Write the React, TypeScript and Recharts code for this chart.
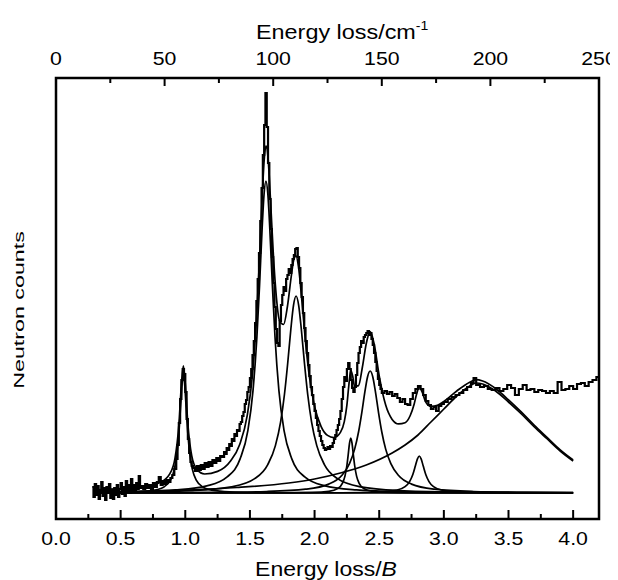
import { ComposedChart, Line, XAxis, YAxis, ReferenceArea, Label } from "recharts"

const FONT = '"Liberation Sans", Arial, Helvetica, sans-serif'

// measured spectrum, histogram bins: [energy loss / B, counts]
const spectrum: [number, number][] = [
  [0.28, 6], [0.29, -4], [0.3, 9], [0.31, -2], [0.32, 7], [0.33, -6], [0.34, 3], [0.35, 11], [0.36, -3], [0.37, 5],
  [0.38, -7], [0.39, 6], [0.4, 0], [0.41, 9], [0.42, -5], [0.43, 3], [0.44, -6], [0.45, 5], [0.46, -2], [0.47, 8],
  [0.48, -4], [0.49, 4], [0.5, 10], [0.51, -1], [0.52, 6], [0.53, -3], [0.54, 12], [0.55, 2], [0.56, 8], [0.57, 0],
  [0.58, 14], [0.59, 3], [0.6, 8], [0.61, 2], [0.62, 10], [0.63, 4], [0.64, 17], [0.65, 5],
  [0.66, 7], [0.675, 4], [0.69, 9], [0.705, 5], [0.72, 8], [0.735, 4], [0.75, 10], [0.765, 6], [0.78, 11], [0.795, 16],
  [0.81, 8], [0.825, 12], [0.84, 9], [0.855, 13], [0.87, 11], [0.885, 15], [0.9, 18], [0.915, 24],
  [0.93, 34], [0.94, 48], [0.95, 70], [0.96, 94], [0.97, 113], [0.98, 124], [0.99, 119], [1.0, 101], [1.01, 74], [1.02, 54],
  [1.03, 40], [1.04, 31], [1.05, 27], [1.06, 25],
  [1.075, 22], [1.09, 27], [1.105, 23], [1.12, 28], [1.135, 24], [1.15, 30], [1.165, 26], [1.18, 31], [1.195, 27], [1.21, 33],
  [1.225, 30], [1.24, 35], [1.255, 32], [1.27, 37], [1.285, 36],
  [1.3, 41], [1.31, 39], [1.32, 45], [1.33, 43], [1.34, 49], [1.35, 47], [1.36, 54], [1.37, 52], [1.38, 59], [1.39, 57],
  [1.4, 63], [1.41, 62], [1.42, 69], [1.43, 71], [1.44, 77], [1.45, 81], [1.46, 89], [1.47, 93], [1.48, 101], [1.49, 106],
  [1.5, 115], [1.51, 124], [1.52, 138], [1.53, 152], [1.54, 170], [1.55, 192], [1.56, 214], [1.57, 240], [1.58, 272], [1.59, 305],
  [1.6, 338], [1.61, 368], [1.62, 400], [1.63, 366], [1.64, 330], [1.65, 294], [1.66, 264], [1.67, 236], [1.68, 210], [1.69, 186],
  [1.7, 164], [1.71, 150], [1.72, 147], [1.73, 172], [1.74, 188], [1.75, 198], [1.76, 206], [1.77, 202], [1.78, 214], [1.79, 218],
  [1.8, 224], [1.81, 220], [1.82, 228], [1.83, 234], [1.84, 238], [1.85, 244], [1.86, 245], [1.87, 236], [1.88, 225], [1.89, 210],
  [1.9, 196], [1.91, 180], [1.92, 165], [1.93, 152], [1.94, 140], [1.95, 128], [1.96, 117], [1.97, 106], [1.98, 98], [1.99, 89],
  [2.0, 82], [2.01, 75], [2.02, 68], [2.03, 62], [2.04, 57], [2.05, 52], [2.06, 48], [2.07, 45], [2.08, 43], [2.09, 44],
  [2.1, 46], [2.11, 44], [2.12, 47], [2.13, 46], [2.14, 50], [2.15, 54], [2.16, 58], [2.17, 63], [2.18, 68], [2.19, 74],
  [2.2, 82], [2.21, 94], [2.22, 106], [2.23, 116], [2.24, 112], [2.25, 124], [2.26, 130], [2.27, 124], [2.28, 113], [2.29, 105],
  [2.3, 101], [2.31, 106], [2.32, 118], [2.33, 130], [2.34, 140], [2.35, 146], [2.36, 152], [2.37, 150], [2.38, 156], [2.39, 158],
  [2.4, 160], [2.41, 162], [2.42, 158], [2.43, 160], [2.44, 154], [2.45, 148], [2.46, 140], [2.47, 131], [2.48, 122], [2.49, 114],
  [2.5, 108], [2.51, 104],
  [2.52, 100], [2.54, 102], [2.56, 99], [2.58, 101], [2.6, 97], [2.62, 99], [2.64, 95], [2.66, 91], [2.68, 94], [2.7, 89],
  [2.72, 88], [2.74, 94], [2.76, 100], [2.78, 104], [2.8, 107], [2.82, 104], [2.84, 98], [2.86, 92], [2.88, 88], [2.9, 84],
  [2.92, 86], [2.94, 82], [2.96, 87], [2.98, 89], [3.0, 91], [3.03, 94], [3.06, 96], [3.09, 98], [3.12, 100], [3.15, 103],
  [3.18, 106], [3.21, 110], [3.23, 115], [3.25, 108], [3.28, 106], [3.31, 107], [3.34, 104], [3.37, 103], [3.4, 105], [3.43, 102],
  [3.46, 104], [3.49, 108], [3.52, 105], [3.55, 98], [3.58, 104], [3.61, 108], [3.64, 103], [3.67, 104], [3.7, 101], [3.73, 103],
  [3.76, 102], [3.79, 100], [3.82, 102], [3.85, 100], [3.88, 111], [3.91, 103], [3.94, 104], [3.97, 107], [4.0, 104], [4.03, 109],
  [4.06, 110], [4.09, 107], [4.12, 111], [4.15, 113], [4.18, 116], [4.2, 116],
]

// sum of the fitted components
const fitTotal: [number, number][] = [
  [0.3, 3.1], [0.5, 4.3], [0.7, 6.8], [0.8, 10.2], [0.88, 19.2], [0.92, 34.4], [0.95, 67.4], [0.97, 108.5], [0.985, 127.1],
  [1.0, 109.1], [1.02, 68.9], [1.05, 37.1], [1.09, 23.6], [1.15, 19.0], [1.25, 21.6], [1.35, 32.0], [1.42, 48.3], [1.48, 78.2],
  [1.52, 118.7], [1.555, 183.2], [1.575, 236.6], [1.595, 296.4], [1.61, 332.5], [1.624, 347.1], [1.64, 335.3], [1.66, 290.9],
  [1.68, 241.2], [1.7, 202.7], [1.73, 171.9], [1.76, 168.5], [1.79, 186.5], [1.82, 217.0], [1.84, 233.7], [1.857, 237.2],
  [1.875, 226.8], [1.9, 195.1], [1.93, 151.2], [1.96, 116.4], [2.0, 86.5], [2.05, 66.7], [2.1, 57.6], [2.15, 55.4], [2.2, 60.6],
  [2.23, 71.4], [2.25, 87.9], [2.265, 107.7], [2.28, 122.7], [2.295, 116.7], [2.31, 106.7], [2.34, 107.4], [2.37, 126.0],
  [2.4, 149.5], [2.43, 161.4], [2.46, 149.5], [2.5, 117.2], [2.55, 87.9], [2.6, 73.6], [2.65, 69.1], [2.7, 70.3], [2.74, 77.5],
  [2.77, 88.8], [2.79, 99.2], [2.81, 105.5], [2.83, 101.7], [2.86, 90.9], [2.9, 86.6], [2.95, 87.6], [3.0, 91.5], [3.1, 102.0],
  [3.2, 110.8], [3.25, 113.4], [3.3, 112.0], [3.4, 104.5], [3.5, 93.1], [3.6, 80.8], [3.7, 67.6], [3.8, 55.4], [3.9, 43.2],
  [4.0, 33.1],
]

// individual fitted peaks
const peak1: [number, number][] = [
  [0.3, 0.3], [0.585, 0.9], [0.735, 2.3], [0.835, 6.1], [0.885, 12.9], [0.915, 23.6], [0.935, 38.8], [0.95, 59], [0.965, 89],
  [0.975, 109], [0.985, 118], [0.995, 109], [1.005, 89], [1.02, 59], [1.035, 38.8], [1.055, 23.6], [1.085, 12.9], [1.135, 6.1],
  [1.235, 2.3], [1.385, 0.9], [1.8, 0.2], [2.6, 0.06], [4.0, 0],
]
const peak2: [number, number][] = [
  [0.3, 0.87], [0.624, 1.5], [0.924, 3.1], [1.174, 7.4], [1.324, 16.1], [1.424, 34.1], [1.484, 62.4], [1.524, 102.6],
  [1.554, 156], [1.574, 206.6], [1.594, 263.6], [1.609, 298.3], [1.624, 312], [1.639, 298.3], [1.654, 263.6], [1.674, 206.6],
  [1.694, 156], [1.724, 102.6], [1.764, 62.4], [1.824, 34.1], [1.924, 16.1], [2.074, 7.4], [2.324, 3.1], [2.624, 1.5],
  [3.2, 0.6], [4.0, 0.27],
]
const peak3: [number, number][] = [
  [0.3, 0.66], [0.657, 1.1], [1.057, 2.46], [1.357, 6.2], [1.537, 14.4], [1.637, 28.2], [1.697, 47.4], [1.737, 70.9],
  [1.767, 98.5], [1.792, 129.5], [1.817, 164.5], [1.837, 187.7], [1.857, 197], [1.877, 187.7], [1.897, 164.5], [1.922, 129.5],
  [1.947, 98.5], [1.977, 70.9], [2.017, 47.4], [2.077, 28.2], [2.177, 14.4], [2.357, 6.2], [2.657, 2.46], [3.057, 1.1],
  [4.0, 0.35],
]
const peak4: [number, number][] = [
  [0.3, 0], [1.68, 0.14], [1.98, 0.54], [2.11, 1.66], [2.18, 4.5], [2.215, 9.7], [2.235, 16.9], [2.25, 27.5], [2.26, 38.1],
  [2.27, 49.5], [2.28, 55], [2.29, 49.5], [2.3, 38.1], [2.31, 27.5], [2.325, 16.9], [2.345, 9.7], [2.38, 4.5], [2.45, 1.66],
  [2.58, 0.54], [2.88, 0.14], [4.0, 0],
]
const peak5: [number, number][] = [
  [0.3, 0.22], [1.23, 0.68], [1.63, 1.5], [1.93, 3.8], [2.11, 8.9], [2.21, 17.5], [2.27, 29.4], [2.31, 43.9], [2.34, 61],
  [2.365, 80.2], [2.39, 101.9], [2.41, 116.3], [2.43, 122], [2.45, 116.3], [2.47, 101.9], [2.495, 80.2], [2.52, 61],
  [2.55, 43.9], [2.59, 29.4], [2.65, 17.5], [2.75, 8.9], [2.93, 3.8], [3.23, 1.5], [3.63, 0.68], [4.0, 0.4],
]
const peak6: [number, number][] = [
  [0.3, 0], [2.21, 0.25], [2.51, 1.0], [2.63, 2.65], [2.7, 6.3], [2.735, 11.4], [2.76, 18.5], [2.78, 27.2], [2.795, 33.9],
  [2.81, 37], [2.825, 33.9], [2.84, 27.2], [2.86, 18.5], [2.885, 11.4], [2.92, 6.3], [2.99, 2.65], [3.11, 1.0], [3.41, 0.25],
  [4.0, 0.07],
]
const broadBand: [number, number][] = [
  [0.3, 1], [0.6, 1.5], [1.0, 3], [1.4, 5.5], [1.8, 10], [2.0, 14], [2.2, 20], [2.4, 28], [2.6, 40], [2.7, 48], [2.8, 58],
  [2.9, 71], [3.0, 84], [3.1, 97], [3.2, 107], [3.25, 110], [3.3, 109], [3.4, 102], [3.5, 91], [3.6, 79], [3.7, 66],
  [3.8, 54], [3.9, 42], [4.0, 32],
]

const bottomTicks = [0, 0.25, 0.5, 0.75, 1, 1.25, 1.5, 1.75, 2, 2.25, 2.5, 2.75, 3, 3.25, 3.5, 3.75, 4]
const topTicks = [0, 25, 50, 75, 100, 125, 150, 175, 200, 225, 250]

const toPoints = (rows: [number, number][]) => rows.map(([e, n]) => ({ e, n }))

const components = [peak1, peak2, peak3, peak4, peak5, peak6, broadBand]

// empty series, only there so the cm-1 axis gets laid out
const topAxisAnchor = topTicks.map((cm) => ({ cm, n: null }))

function BottomTick({ x, y, payload }: any) {
  const v = payload.value
  const major = Math.abs(v * 2 - Math.round(v * 2)) < 1e-6
  return (
    <g>
      <line x1={x} x2={x} y1={y} y2={y - (major ? 9 : 5)} stroke="#000" strokeWidth={2} />
      {major && (
        <text transform={`translate(${x},${y + 26}) scale(1.15,1)`} textAnchor="middle" fontSize={18.5} fontFamily={FONT} fill="#000">
          {v.toFixed(1)}
        </text>
      )}
    </g>
  )
}

function TopTick({ x, y, payload }: any) {
  const v = payload.value
  const major = v % 50 === 0
  return (
    <g>
      <line x1={x} x2={x} y1={y} y2={y + (major ? 8 : 5)} stroke="#000" strokeWidth={2} />
      {major && (
        <text transform={`translate(${x},${y - 13}) scale(1.15,1)`} textAnchor="middle" fontSize={18.5} fontFamily={FONT} fill="#000">
          {v}
        </text>
      )}
    </g>
  )
}

const Titles = () => (
  <g>
    <text transform="translate(318,568) scale(1.15,1)" textAnchor="middle" fontSize={20} fontFamily={FONT} fill="#000">
      Energy loss/<tspan fontStyle="italic">B</tspan>
    </text>
    <text transform="translate(16,302) rotate(-90) scale(1.5,1)" textAnchor="middle" fontSize={15.5} fontFamily={FONT} fill="#000">
      Neutron counts
    </text>
    <text transform="translate(248,31) scale(1.17,1)" textAnchor="start" fontSize={20} fontFamily={FONT} fill="#000">
      Energy loss/cm
      <tspan fontSize={12} dy={-9}>-1</tspan>
    </text>
  </g>
)

export default function App() {
  return (
    <>
      {/* the chart is a few px taller than the window; keep scrollbars from eating the right edge */}
      <style>{"body { overflow: hidden; }"}</style>
      <ComposedChart width={610} height={574} margin={{ top: 40, right: 19, bottom: 33, left: 48 }}>
        <XAxis
          dataKey="e"
          type="number"
          domain={[0, 4.2]}
          ticks={bottomTicks}
          interval={0}
          tick={<BottomTick />}
          tickSize={0}
          tickMargin={0}
          tickLine={false}
          axisLine={false}
          height={30}
          allowDataOverflow
        >
          <Label content={Titles} />
        </XAxis>
        <XAxis
          xAxisId="top"
          dataKey="cm"
          orientation="top"
          type="number"
          domain={[0, 250]}
          ticks={topTicks}
          interval={0}
          tick={<TopTick />}
          tickSize={0}
          tickMargin={0}
          tickLine={false}
          axisLine={false}
          height={30}
          allowDataOverflow
        />
        <YAxis type="number" domain={[-26, 415]} hide allowDataOverflow />
        <ReferenceArea x1={0} x2={4.2} y1={-26} y2={415} fill="none" stroke="#000" strokeWidth={2.5} />
        <Line
          xAxisId="top"
          data={topAxisAnchor}
          dataKey="n"
          stroke="none"
          dot={false}
          activeDot={false}
          isAnimationActive={false}
        />
        {components.map((c, i) => (
          <Line
            key={`peak-${i}`}
            data={toPoints(c)}
            dataKey="n"
            type="monotone"
            stroke="#000"
            strokeWidth={1.7}
            dot={false}
            activeDot={false}
            isAnimationActive={false}
          />
        ))}
        <Line
          data={toPoints(fitTotal)}
          dataKey="n"
          type="monotone"
          stroke="#000"
          strokeWidth={1.7}
          dot={false}
          activeDot={false}
          isAnimationActive={false}
        />
        <Line
          data={toPoints(spectrum)}
          dataKey="n"
          type="stepAfter"
          stroke="#000"
          strokeWidth={2.2}
          dot={false}
          activeDot={false}
          isAnimationActive={false}
        />
      </ComposedChart>
    </>
  )
}
